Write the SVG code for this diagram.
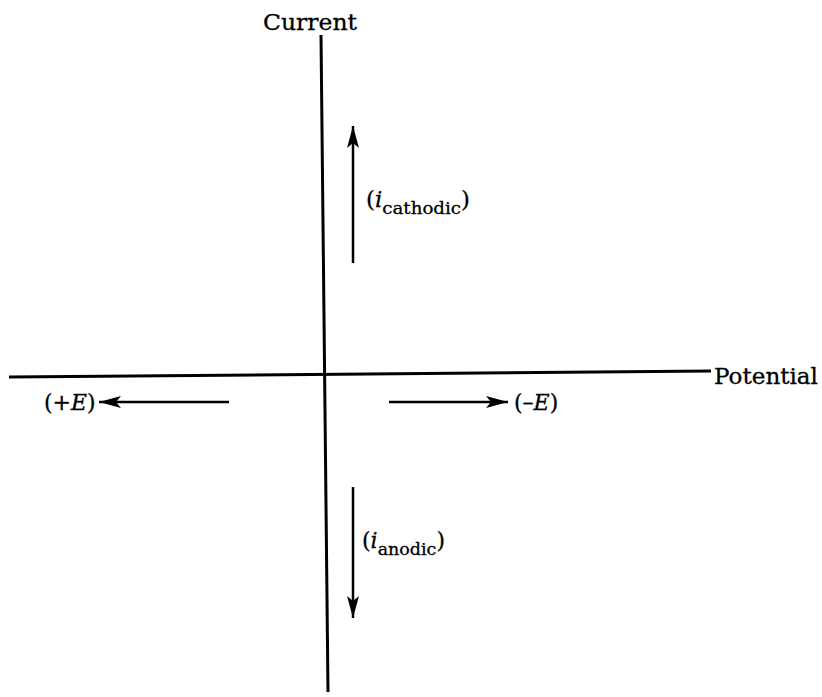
<svg xmlns="http://www.w3.org/2000/svg" width="822" height="697" viewBox="0 0 822 697">
<style>
  .ax { stroke:#000; stroke-width:3; fill:none; stroke-linecap:butt; }
  .ar { stroke:#000; stroke-width:2.5; fill:none; }
  .t { font-family:"DejaVu Serif","Liberation Serif",serif; font-size:22px; fill:#000; stroke:#000; stroke-width:0.3; }
  .sub { font-size:17.5px; }
  .it { font-style:italic; }
</style>
<defs>
  <marker id="head" markerUnits="userSpaceOnUse" markerWidth="24" markerHeight="14" refX="22" refY="6" orient="auto">
    <path d="M0,0 L22,6 L0,12 L5,6 Z" fill="#000"/>
  </marker>
</defs>
<rect width="822" height="697" fill="#fff"/>
<g id="connectors">
  <line id="current-axis" class="ax" x1="321" y1="35" x2="328" y2="692"/>
  <line id="potential-axis" class="ax" x1="9" y1="377" x2="711" y2="371"/>
  <line id="arrow-cathodic" class="ar" x1="353" y1="263" x2="353" y2="126" marker-end="url(#head)"/>
  <line id="arrow-anodic" class="ar" x1="353" y1="487" x2="353" y2="618" marker-end="url(#head)"/>
  <line id="arrow-plusE" class="ar" x1="229" y1="402" x2="99" y2="402" marker-end="url(#head)"/>
  <line id="arrow-minusE" class="ar" x1="389" y1="402" x2="508" y2="402" marker-end="url(#head)"/>
</g>
<g id="label-current">
  <text class="t" x="263" y="30" textLength="94" lengthAdjust="spacingAndGlyphs">Current</text>
</g>
<g id="label-potential">
  <text class="t" x="714" y="384" textLength="104" lengthAdjust="spacingAndGlyphs">Potential</text>
</g>
<g id="label-cathodic">
  <text class="t" x="366" y="207" textLength="104" lengthAdjust="spacingAndGlyphs">(<tspan class="it">i</tspan><tspan class="sub" dy="7">cathodic</tspan><tspan dy="-7">)</tspan></text>
</g>
<g id="label-anodic">
  <text class="t" x="362" y="548" textLength="83" lengthAdjust="spacingAndGlyphs">(<tspan class="it">i</tspan><tspan class="sub" dy="7">anodic</tspan><tspan dy="-7">)</tspan></text>
</g>
<g id="label-plusE">
  <text class="t" x="44" y="410">(+<tspan class="it">E</tspan>)</text>
</g>
<g id="label-minusE">
  <text class="t" x="514" y="410">(–<tspan class="it">E</tspan>)</text>
</g>
</svg>
